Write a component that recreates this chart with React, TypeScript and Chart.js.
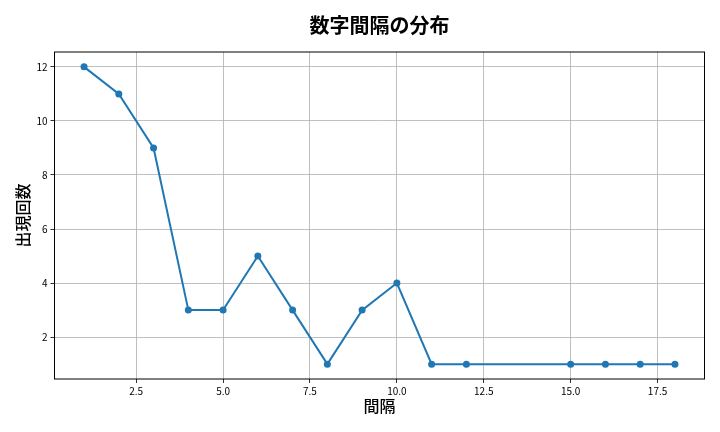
import { useEffect, useRef } from 'react'
import { Chart, registerables } from 'chart.js'

Chart.register(...registerables)

const INTERVALS = [1, 2, 3, 4, 5, 6, 7, 8, 9, 10, 11, 12, 15, 16, 17, 18]
const COUNTS = [12, 11, 9, 3, 3, 5, 3, 1, 3, 4, 1, 1, 1, 1, 1, 1]
const X_TICKS = [2.5, 5.0, 7.5, 10.0, 12.5, 15.0, 17.5]
const Y_TICKS = [2, 4, 6, 8, 10, 12]

const TITLE = '数字間隔の分布'
const X_LABEL = '間隔'
const Y_LABEL = '出現回数'

const FONT = "'Noto Sans CJK JP', 'Noto Sans', sans-serif"

// box around the plot area plus the centred title, matplotlib style
const framePlugin = {
  id: 'frame',
  afterDraw(chart: Chart) {
    const { ctx, chartArea } = chart
    ctx.save()
    ctx.strokeStyle = '#000'
    ctx.lineWidth = 1
    ctx.strokeRect(chartArea.left, chartArea.top, chartArea.right - chartArea.left, chartArea.bottom - chartArea.top)
    ctx.fillStyle = '#000'
    ctx.font = `bold 20px ${FONT}`
    ctx.textAlign = 'center'
    ctx.textBaseline = 'middle'
    ctx.fillText(TITLE, (chartArea.left + chartArea.right) / 2, 25)
    ctx.restore()
  },
}

export default function App() {
  const chartRef = useRef<HTMLCanvasElement>(null)
  const chartInstance = useRef<Chart | null>(null)

  useEffect(() => {
    if (!chartRef.current) return
    if (chartInstance.current) chartInstance.current.destroy()

    chartInstance.current = new Chart(chartRef.current, {
      type: 'scatter',
      data: {
        datasets: [{
          data: INTERVALS.map((x, i) => ({ x, y: COUNTS[i] })),
          showLine: true,
          borderColor: '#1f77b4',
          backgroundColor: '#1f77b4',
          borderWidth: 2,
          pointRadius: 3.5,
          pointBorderWidth: 0,
        }],
      },
      options: {
        animation: false,
        responsive: false,
        maintainAspectRatio: false,
        layout: { padding: { top: 52, right: 15.5, bottom: 0, left: 0 } },
        plugins: {
          legend: { display: false },
          tooltip: { enabled: false },
        },
        scales: {
          x: {
            type: 'linear',
            min: 0.15,
            max: 18.85,
            afterFit: (s: any) => { s.height = 53 },
            afterBuildTicks: (s: any) => { s.ticks = X_TICKS.map(v => ({ value: v })) },
            ticks: {
              font: { family: FONT, size: 10 },
              color: '#000',
              padding: 2,
              maxRotation: 0,
              callback: (v: any) => Number(v).toFixed(1),
            },
            grid: { color: '#b0b0b0', lineWidth: 0.8, tickLength: 4, tickColor: '#000' },
            border: { display: false },
            title: {
              display: true,
              text: X_LABEL,
              font: { family: FONT, size: 16, weight: 500 },
              color: '#000',
              padding: { top: 0, bottom: 16.4 },
            },
          },
          y: {
            type: 'linear',
            min: 0.45,
            max: 12.55,
            afterFit: (s: any) => { s.width = 54.5 },
            afterBuildTicks: (s: any) => { s.ticks = Y_TICKS.map(v => ({ value: v })) },
            ticks: {
              font: { family: FONT, size: 10 },
              color: '#000',
              padding: 3,
              callback: (v: any) => String(v),
            },
            grid: { color: '#b0b0b0', lineWidth: 0.8, tickLength: 4, tickColor: '#000' },
            border: { display: false },
            title: {
              display: true,
              text: Y_LABEL,
              font: { family: FONT, size: 16, weight: 500 },
              color: '#000',
              padding: { top: 13.4, bottom: 0 },
            },
          },
        },
      },
      plugins: [framePlugin],
    })

    return () => {
      if (chartInstance.current) {
        chartInstance.current.destroy()
        chartInstance.current = null
      }
    }
  }, [])

  return (
    <div style={{ position: 'fixed', left: 0, top: 0, width: 720, height: 432, background: '#fff' }}>
      <canvas ref={chartRef} width={720} height={432} style={{ width: 720, height: 432 }} />
    </div>
  )
}
